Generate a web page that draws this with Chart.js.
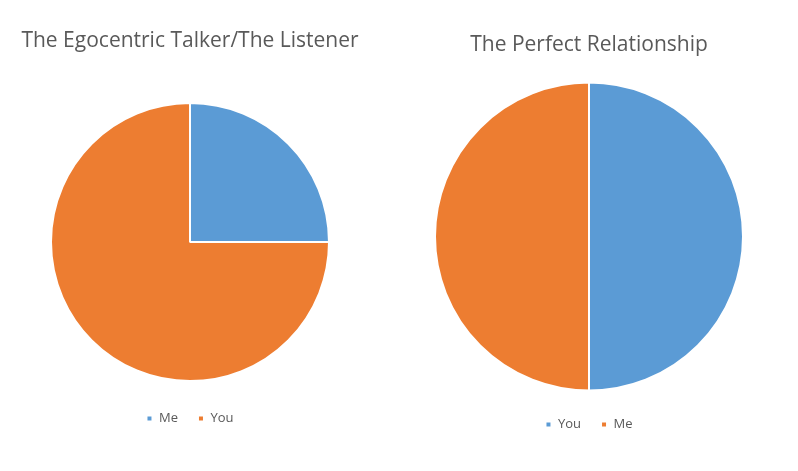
<!DOCTYPE html>
<html>
<head>
<meta charset="utf-8">
<script src="https://cdn.jsdelivr.net/npm/chart.js@4.4.1/dist/chart.umd.min.js"></script>
<style>
  html, body { margin: 0; padding: 0; background: #fff; }
  body { width: 798px; height: 471px; position: relative; overflow: hidden; }
  .box { position: absolute; top: 0; height: 471px; }
  #leftBox { left: 0; width: 380px; }
  #rightBox { left: 400px; width: 378px; }
</style>
</head>
<body>
<div class="box" id="leftBox"><canvas id="leftChart"></canvas></div>
<div class="box" id="rightBox"><canvas id="rightChart"></canvas></div>
<script>
// data
const leftTitle = 'The Egocentric Talker/The Listener';
const leftLabels = ['Me', 'You'];
const leftValues = [25, 75];

const rightTitle = 'The Perfect Relationship';
const rightLabels = ['You', 'Me'];
const rightValues = [50, 50];

const blue = '#5B9BD5';
const orange = '#ED7D31';
const textGray = '#595959';

function makePie(canvasId, title, labels, values, opts) {
  const ctx = document.getElementById(canvasId).getContext('2d');
  return new Chart(ctx, {
    type: 'pie',
    data: {
      labels: labels,
      datasets: [{
        data: values,
        backgroundColor: [blue, orange],
        borderColor: '#ffffff',
        borderWidth: 2,
        radius: opts.radius
      }]
    },
    options: {
      responsive: true,
      maintainAspectRatio: false,
      animation: false,
      layout: { padding: opts.layout },
      plugins: {
        title: {
          display: true,
          text: title,
          color: textGray,
          font: { family: 'Open Sans', size: 21, weight: 'normal' },
          padding: opts.title
        },
        legend: {
          position: 'bottom',
          labels: {
            color: textGray,
            font: { family: 'Open Sans', size: 13 },
            usePointStyle: true,
            pointStyle: 'rect',
            boxWidth: 6,
            boxHeight: 6,
            padding: 20
          }
        },
        tooltip: { enabled: false }
      }
    }
  });
}

makePie('leftChart', leftTitle, leftLabels, leftValues, {
  radius: 139,
  layout: { top: 0, bottom: 36, left: 0, right: 0 },
  title: { top: 28, bottom: 39 }
});

makePie('rightChart', rightTitle, rightLabels, rightValues, {
  radius: 154,
  layout: { top: 0, bottom: 30, left: 0, right: 0 },
  title: { top: 32, bottom: 18 }
});
</script>
</body>
</html>
